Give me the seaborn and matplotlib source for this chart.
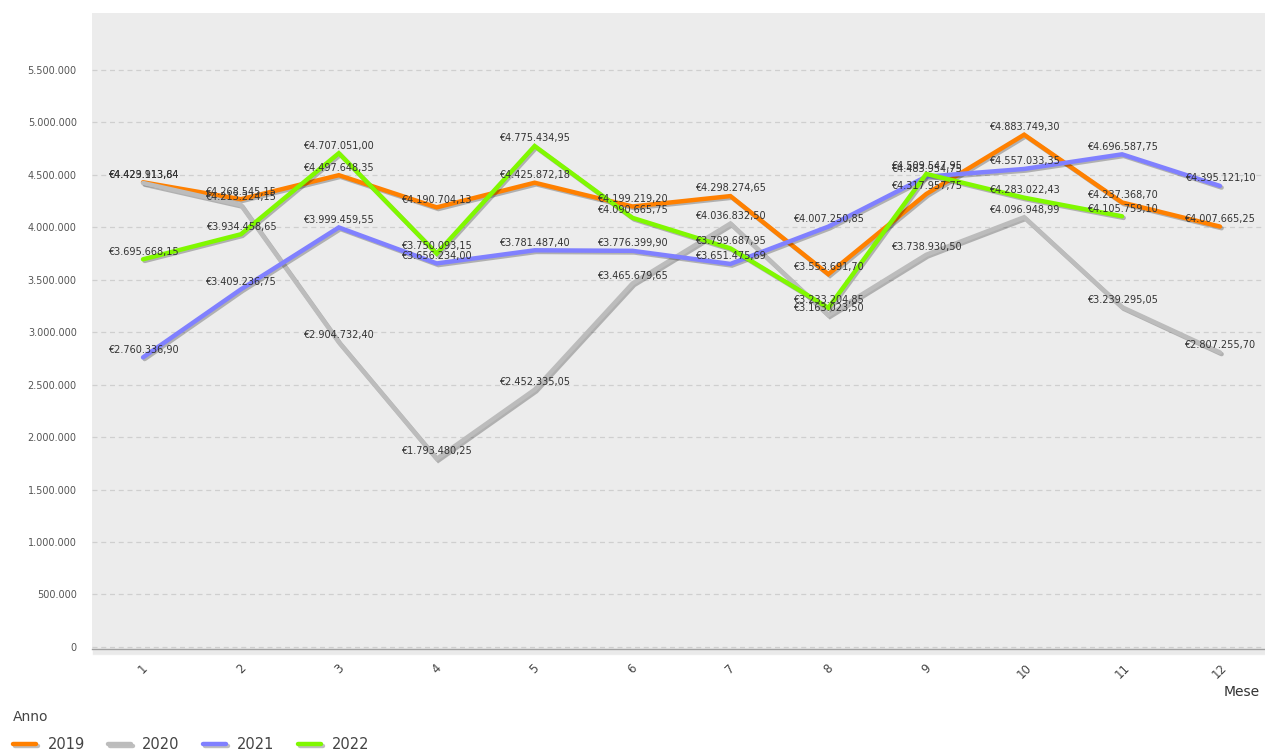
import numpy as np
import pandas as pd
import matplotlib
matplotlib.use("Agg")
import matplotlib.pyplot as plt
import matplotlib.patheffects as pe
import seaborn as sns

# Monthly revenue per year (EUR)
mesi = [1, 2, 3, 4, 5, 6, 7, 8, 9, 10, 11, 12]
anni = ["2019", "2020", "2021", "2022"]

v2019 = [4429913.84, 4268545.15, 4497648.35, 4190704.13, 4425872.18, 4199219.20,
         4298274.65, 3553691.70, 4317957.75, 4883749.30, 4237368.70, 4007665.25]
v2020 = [4423113.64, 4213224.15, 2904732.40, 1793480.25, 2452335.05, 3465679.65,
         4036832.50, 3163023.50, 3738930.50, 4096948.99, 3239295.05, 2807255.70]
v2021 = [2760336.90, 3409236.75, 3999459.55, 3656234.00, 3781487.40, 3776399.90,
         3651475.69, 4007250.85, 4483954.75, 4557033.35, 4696587.75, 4395121.10]
v2022 = [3695668.15, 3934458.65, 4707051.00, 3750093.15, 4775434.95, 4090665.75,
         3799687.95, 3233204.85, 4509547.95, 4283022.43, 4105759.10, np.nan]

colori = ["#ff8000", "#bcbcbc", "#8080ff", "#80f800"]
yticks = list(range(0, 5500001, 500000))

df = pd.DataFrame({
    "Mese": mesi * 4,
    "Anno": sum([[a] * 12 for a in anni], []),
    "Valore": v2019 + v2020 + v2021 + v2022,
})


def it_num(v, dec=0):
    s = f"{v:,.{dec}f}"
    return s.replace(",", "X").replace(".", ",").replace("X", ".")


sns.set_style("white")
plt.rcParams["font.family"] = ["DejaVu Sans"]

fig = plt.figure(figsize=(12.65, 7.52), dpi=100)
ax = fig.add_axes([92 / 1265, 103 / 752, 1 - 92 / 1265, 1 - 103 / 752 - 13 / 752])
ax.set_facecolor("#ececec")

sns.lineplot(data=df.dropna(), x="Mese", y="Valore", hue="Anno", hue_order=anni,
             palette=colori, linewidth=3.2, ax=ax, legend=False, sort=False)

shadow = [pe.SimpleLineShadow(offset=(1.2, -1.2), shadow_color="black", alpha=0.25),
          pe.Normal()]
for ln in ax.get_lines():
    ln.set_path_effects(shadow)
    ln.set_solid_joinstyle("miter")

# value labels above each point
for serie in (v2019, v2020, v2021, v2022):
    for m, v in zip(mesi, serie):
        if np.isnan(v):
            continue
        ax.annotate("€" + it_num(v, 2), (m, v), xytext=(0, 5.5), textcoords="offset points",
                    ha="center", va="center", fontsize=7, color="#333333", zorder=5)

ax.set_xlim(0.479, 12.46)
ax.set_ylim(-20000, 6044000)
ax.set_yticks(yticks)
ax.set_yticklabels([it_num(t) for t in yticks], fontsize=7, color="#555555")
ax.set_xticks(mesi)
ax.set_xticklabels([str(m) for m in mesi], rotation=45, ha="center", fontsize=8.5,
                   color="#444444")
ax.tick_params(axis="y", length=0, pad=11)
ax.tick_params(axis="x", length=0, pad=9)
ax.set_xlabel("")
ax.set_ylabel("")
ax.yaxis.grid(True, linestyle=(0, (4, 3)), color="#cfcfcf", linewidth=0.9)
ax.set_axisbelow(True)

for s in ("top", "right", "left"):
    ax.spines[s].set_visible(False)
ax.spines["bottom"].set_color("#a0a0a0")
ax.spines["bottom"].set_linewidth(1.0)
ax.spines["bottom"].set_linestyle((0, (2, 1)))
ax.spines["bottom"].set_path_effects(
    [pe.SimpleLineShadow(offset=(0.8, -0.7 * k), shadow_color="black", alpha=0.06)
     for k in range(1, 6)] + [pe.Normal()])

fig.text(1260 / 1265, 1 - 692 / 752, "Mese", ha="right", va="center", fontsize=10,
         color="#333333")

handles = ax.get_lines()[:4]
leg = fig.legend(handles, anni, loc="lower left", bbox_to_anchor=(0.0, -0.018), ncol=4,
                 title="Anno", title_fontsize=10, fontsize=10.5, alignment="left",
                 frameon=False, handlelength=1.6, handletextpad=0.75, columnspacing=1.6,
                 labelcolor="#444444", labelspacing=0.9)
leg.get_title().set_color("#444444")

fig.savefig("out.png", dpi=100, facecolor="white")
